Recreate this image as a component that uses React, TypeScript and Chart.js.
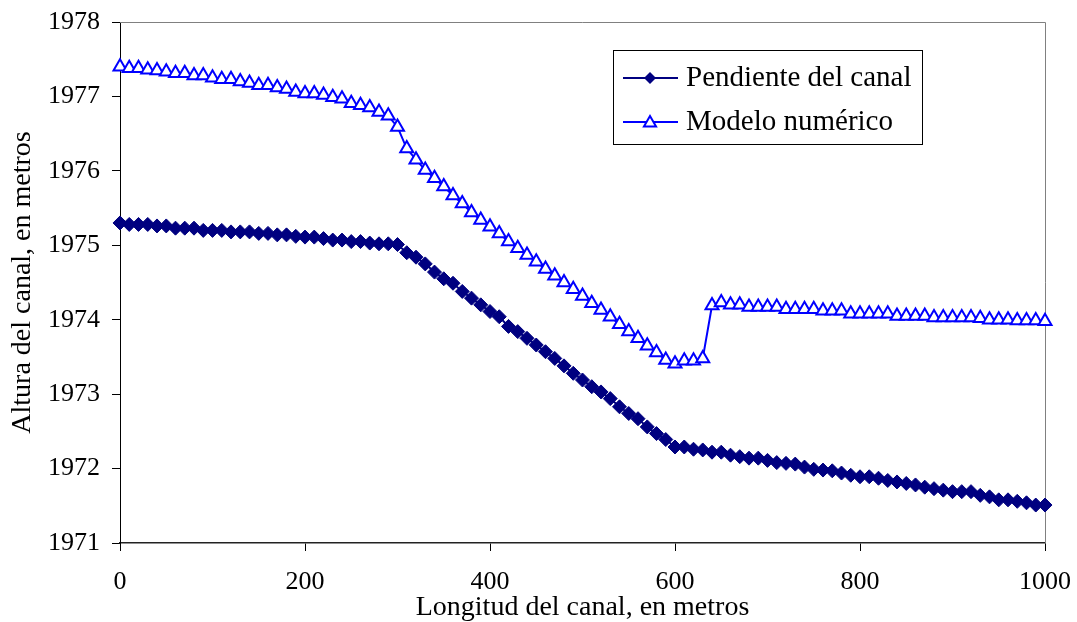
import React, { useEffect, useRef } from "react";
import { Chart, registerables } from "chart.js";

Chart.register(...registerables);

const distances = [
  0, 10, 20, 30, 40, 50, 60, 70, 80, 90,
  100, 110, 120, 130, 140, 150, 160, 170, 180, 190,
  200, 210, 220, 230, 240, 250, 260, 270, 280, 290,
  300, 310, 320, 330, 340, 350, 360, 370, 380, 390,
  400, 410, 420, 430, 440, 450, 460, 470, 480, 490,
  500, 510, 520, 530, 540, 550, 560, 570, 580, 590,
  600, 610, 620, 630, 640, 650, 660, 670, 680, 690,
  700, 710, 720, 730, 740, 750, 760, 770, 780, 790,
  800, 810, 820, 830, 840, 850, 860, 870, 880, 890,
  900, 910, 920, 930, 940, 950, 960, 970, 980, 990,
  1000,
];

const pendienteDelCanal = [
  1975.30, 1975.28, 1975.28, 1975.28, 1975.26, 1975.26, 1975.23, 1975.23, 1975.23, 1975.20,
  1975.20, 1975.20, 1975.18, 1975.18, 1975.18, 1975.16, 1975.16, 1975.14, 1975.14, 1975.12,
  1975.11, 1975.11, 1975.09, 1975.07, 1975.07, 1975.05, 1975.05, 1975.03, 1975.02, 1975.02,
  1975.01,
  1974.90, 1974.84, 1974.75, 1974.64, 1974.55, 1974.49, 1974.38, 1974.29, 1974.20, 1974.11,
  1974.04, 1973.91, 1973.84, 1973.75, 1973.66, 1973.57, 1973.48, 1973.38, 1973.28, 1973.19,
  1973.10, 1973.03, 1972.94, 1972.83, 1972.74, 1972.67, 1972.56, 1972.47, 1972.39, 1972.29,
  1972.29, 1972.26, 1972.25, 1972.22, 1972.22, 1972.18, 1972.16, 1972.14, 1972.14, 1972.11,
  1972.08, 1972.07, 1972.06, 1972.02, 1971.99, 1971.98, 1971.97, 1971.94, 1971.91, 1971.89,
  1971.89, 1971.87, 1971.84, 1971.82, 1971.80, 1971.78, 1971.75, 1971.73, 1971.71, 1971.69,
  1971.69, 1971.69, 1971.64, 1971.62, 1971.58, 1971.58, 1971.56, 1971.54, 1971.51, 1971.51,
];

const modeloNumerico = [
  1977.40, 1977.38, 1977.38, 1977.36, 1977.35, 1977.33, 1977.31, 1977.31, 1977.28, 1977.28,
  1977.25, 1977.23, 1977.23, 1977.20, 1977.18, 1977.15, 1977.15, 1977.12, 1977.10, 1977.06,
  1977.04, 1977.04, 1977.02, 1976.99, 1976.97, 1976.91, 1976.88, 1976.85, 1976.79, 1976.74,
  1976.59,
  1976.30, 1976.15, 1976.01, 1975.90, 1975.79, 1975.67, 1975.56, 1975.44, 1975.34, 1975.25,
  1975.16, 1975.05, 1974.96, 1974.87, 1974.78, 1974.68, 1974.59, 1974.50, 1974.41, 1974.32,
  1974.22, 1974.13, 1974.04, 1973.94, 1973.84, 1973.75, 1973.65, 1973.56, 1973.46, 1973.41,
  1973.45, 1973.45, 1973.48, 1974.19, 1974.23, 1974.20, 1974.20, 1974.17, 1974.17, 1974.17,
  1974.17, 1974.14, 1974.14, 1974.14, 1974.14, 1974.12, 1974.12, 1974.12, 1974.08, 1974.08,
  1974.08, 1974.08, 1974.08, 1974.05, 1974.05, 1974.05, 1974.05, 1974.03, 1974.03, 1974.03,
  1974.03, 1974.03, 1974.02, 1974.00, 1974.00, 1974.00, 1973.99, 1973.99, 1973.99, 1973.98,
];

const seriesLabels = ["Pendiente del canal", "Modelo numérico"];
const xTickValues = [0, 200, 400, 600, 800, 1000];
const yTickValues = [1971, 1972, 1973, 1974, 1975, 1976, 1977, 1978];
const xAxisTitle = "Longitud del canal, en metros";
const yAxisTitle = "Altura del canal, en metros";

const FONT = "'Liberation Serif', 'Times New Roman', serif";
const NAVY = "#000080";
const BLUE = "#0000FF";

const W = 1077;
const H = 622;

function drawDiamond(ctx: CanvasRenderingContext2D, x: number, y: number, r: number, color: string) {
  ctx.beginPath();
  ctx.moveTo(x, y - r);
  ctx.lineTo(x + r, y);
  ctx.lineTo(x, y + r);
  ctx.lineTo(x - r, y);
  ctx.closePath();
  ctx.fillStyle = color;
  ctx.fill();
}

function drawTriangle(ctx: CanvasRenderingContext2D, x: number, y: number, r: number, color: string, lw: number) {
  ctx.beginPath();
  ctx.moveTo(x, y - r);
  ctx.lineTo(x + r * 0.866, y + r * 0.5);
  ctx.lineTo(x - r * 0.866, y + r * 0.5);
  ctx.closePath();
  ctx.fillStyle = "#ffffff";
  ctx.fill();
  ctx.lineWidth = lw;
  ctx.strokeStyle = color;
  ctx.stroke();
}

const framePlugin = {
  id: "frameAndLegend",
  beforeDatasetsDraw(chart: any) {
    const { ctx, chartArea } = chart;
    ctx.save();
    ctx.strokeStyle = "#808080";
    ctx.lineWidth = 1;
    ctx.beginPath();
    ctx.moveTo(chartArea.left, chartArea.top + 0.5);
    ctx.lineTo(chartArea.right + 0.5, chartArea.top + 0.5);
    ctx.lineTo(chartArea.right + 0.5, chartArea.bottom);
    ctx.stroke();
    ctx.restore();
  },
  afterDraw(chart: any) {
    const { ctx } = chart;
    ctx.save();
    const bx = 613.5, by = 50.5, bw = 309, bh = 94;
    ctx.fillStyle = "#ffffff";
    ctx.fillRect(bx, by, bw, bh);
    ctx.strokeStyle = "#000000";
    ctx.lineWidth = 1;
    ctx.strokeRect(bx, by, bw, bh);
    const rows = [78, 122];
    chart.data.datasets.forEach((ds: any, i: number) => {
      const y = rows[i];
      ctx.beginPath();
      ctx.strokeStyle = ds.borderColor;
      ctx.lineWidth = 2;
      ctx.moveTo(623, y);
      ctx.lineTo(678, y);
      ctx.stroke();
      if (i === 0) drawDiamond(ctx, 650, y, 6, NAVY);
      else drawTriangle(ctx, 650, y + 1, 7, BLUE, 2);
      ctx.fillStyle = "#000000";
      ctx.font = `29px ${FONT}`;
      ctx.textBaseline = "middle";
      ctx.textAlign = "left";
      ctx.fillText(ds.label, 686, y);
    });
    ctx.restore();
  },
};

export default function App() {
  const canvasRef = useRef<HTMLCanvasElement | null>(null);

  useEffect(() => {
    const canvas = canvasRef.current;
    if (!canvas) return;
    const chart = new Chart(canvas, {
      type: "line",
      data: {
        datasets: [
          {
            label: seriesLabels[0],
            data: distances.map((d, i) => ({ x: d, y: pendienteDelCanal[i] })),
            borderColor: NAVY,
            backgroundColor: NAVY,
            borderWidth: 2,
            pointStyle: "rectRot",
            pointRadius: 7,
            pointBorderWidth: 1,
            pointBackgroundColor: NAVY,
            pointBorderColor: NAVY,
            tension: 0,
            clip: false as any,
          },
          {
            label: seriesLabels[1],
            data: distances.map((d, i) => ({ x: d, y: modeloNumerico[i] })),
            borderColor: BLUE,
            backgroundColor: "#ffffff",
            borderWidth: 2,
            pointStyle: "triangle",
            pointRadius: 7.5,
            pointBorderWidth: 2,
            pointBackgroundColor: "#ffffff",
            pointBorderColor: BLUE,
            tension: 0,
            clip: false as any,
          },
        ],
      },
      options: {
        responsive: false,
        animation: false,
        devicePixelRatio: 1,
        layout: { padding: { left: 0, top: 22, right: W - 1045, bottom: 0 } },
        plugins: {
          legend: { display: false },
          tooltip: { enabled: false },
        },
        scales: {
          x: {
            type: "linear",
            min: 0,
            max: 1000,
            afterBuildTicks: (s: any) => {
              s.ticks = xTickValues.map((v) => ({ value: v }));
            },
            afterFit: (s: any) => {
              s.height = H - 543;
              s.paddingLeft = 0;
              s.paddingRight = 0;
            },
            ticks: {
              color: "#000000",
              font: { family: FONT, size: 26, lineHeight: 1 },
              padding: 18,
              maxRotation: 0,
              autoSkip: false,
              callback: (v: any) => String(v),
            },
            grid: {
              drawOnChartArea: false,
              drawTicks: true,
              tickLength: 8,
              color: "#000000",
            },
            border: { display: true, color: "#222222", width: 1.5 },
            title: {
              display: true,
              text: xAxisTitle,
              color: "#000000",
              font: { family: FONT, size: 28, lineHeight: 1 },
              padding: { top: 0, bottom: 0 },
            },
          },
          y: {
            type: "linear",
            min: 1971,
            max: 1978,
            afterBuildTicks: (s: any) => {
              s.ticks = yTickValues.map((v) => ({ value: v }));
            },
            afterFit: (s: any) => {
              s.width = 120;
              s.paddingTop = 0;
              s.paddingBottom = 0;
            },
            ticks: {
              color: "#000000",
              font: { family: FONT, size: 26, lineHeight: 1 },
              padding: 12,
              autoSkip: false,
              callback: (v: any) => String(v),
            },
            grid: {
              drawOnChartArea: false,
              drawTicks: true,
              tickLength: 8,
              color: "#000000",
            },
            border: { display: true, color: "#000000", width: 1 },
            title: {
              display: true,
              text: yAxisTitle,
              color: "#000000",
              font: { family: FONT, size: 28, lineHeight: 1 },
              padding: { top: 9, bottom: 0 },
            },
          },
        },
      } as any,
      plugins: [framePlugin],
    });
    return () => chart.destroy();
  }, []);

  return (
    <div style={{ position: "fixed", left: 0, top: 0, width: W, height: H, background: "#ffffff" }}>
      <canvas ref={canvasRef} width={W} height={H} style={{ display: "block" }} />
    </div>
  );
}
